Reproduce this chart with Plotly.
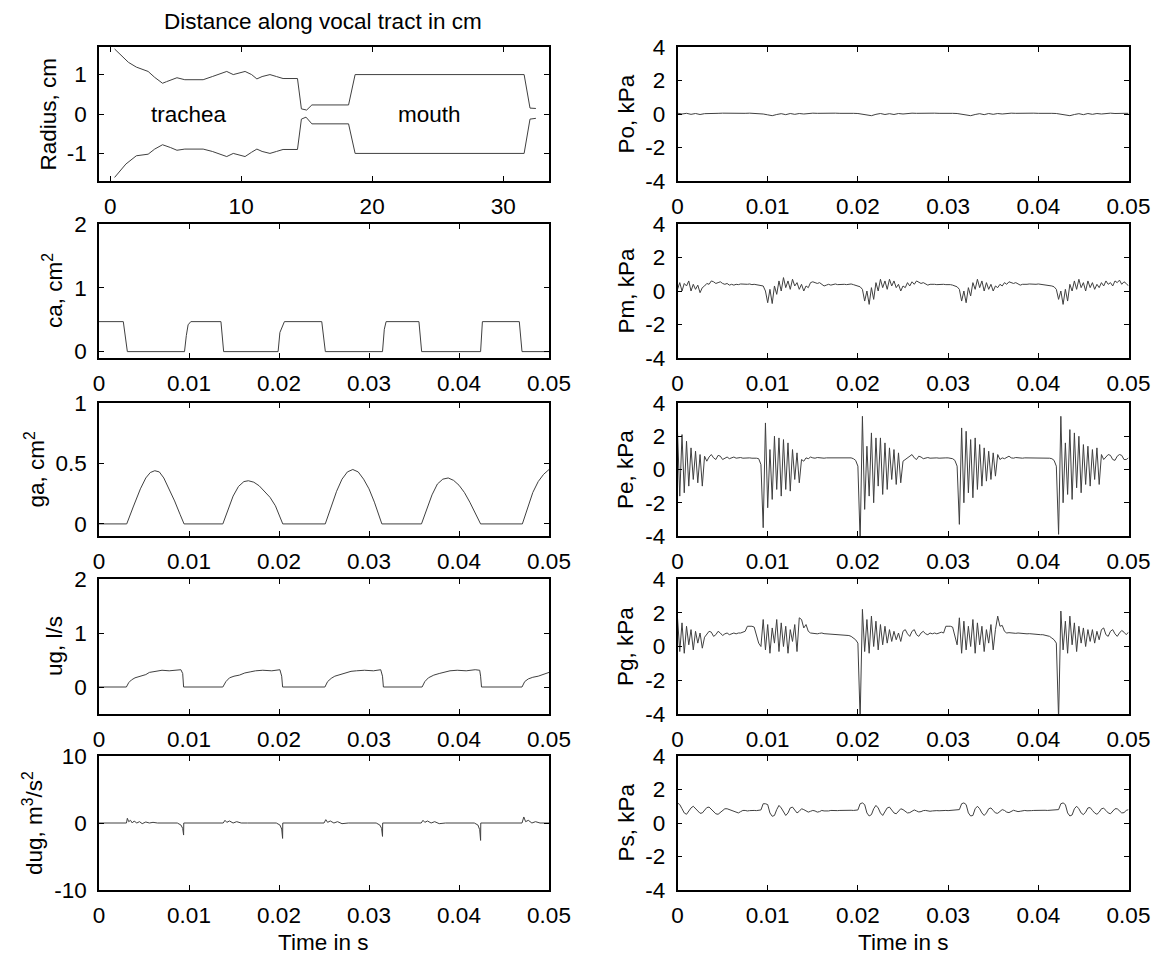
import plotly.graph_objects as go

W, H = 1157, 955
FONT = "Liberation Sans, Arial, sans-serif"
FS = 22.5
LC = "#404040"

# ---------------- DATA ----------------
# Vocal tract radius profile (distance in cm, radius in cm)
tract_x_upper = [0.34, 1.4, 2.0, 2.6, 2.9, 3.4, 4.0, 4.3, 5.1, 5.7, 7.1, 7.8, 8.5, 8.9, 9.4, 9.8,
                 10.3, 10.8, 11.2, 11.6, 12.2, 12.7, 13.2, 14.3, 14.6, 15.0, 15.4, 18.2, 18.7,
                 31.6, 32.05, 32.5]
tract_r_upper = [1.65, 1.31, 1.19, 1.12, 1.08, 0.93, 0.78, 0.82, 0.92, 0.87, 0.87, 0.95, 1.02, 1.08,
                 1.0, 1.04, 1.08, 1.0, 0.89, 0.95, 1.0, 0.95, 0.9, 0.9, 0.13, 0.1, 0.23, 0.23, 1.0,
                 1.0, 0.15, 0.14]
tract_x_lower = [0.34, 1.2, 2.0, 2.9, 3.4, 4.0, 4.6, 5.1, 5.7, 7.1, 7.8, 8.5, 8.9, 9.4, 9.8, 10.3,
                 10.8, 11.2, 11.6, 12.2, 12.7, 13.2, 14.3, 14.6, 14.95, 15.4, 18.2, 18.7, 31.6,
                 32.05, 32.5]
tract_r_lower = [-1.61, -1.27, -1.06, -1.02, -0.89, -0.78, -0.85, -0.92, -0.89, -0.89, -0.95, -1.02,
                 -1.08, -1.0, -1.03, -1.08, -0.97, -0.89, -0.95, -1.0, -0.95, -0.9, -0.9, -0.13,
                 -0.08, -0.25, -0.25, -1.0, -1.0, -0.13, -0.11]

# ca (cm^2) breakpoints
ca_t = [0, 0.0027, 0.00315, 0.0095, 0.0097, 0.0099, 0.0102, 0.01355, 0.01385, 0.0199, 0.0201,
        0.0206, 0.02475, 0.02515, 0.0315, 0.0317, 0.0319, 0.03555, 0.03585, 0.0424, 0.0426,
        0.0467, 0.0470, 0.05]
ca_v = [0.47, 0.47, 0, 0, 0.25, 0.42, 0.47, 0.47, 0, 0, 0.3, 0.47, 0.47, 0, 0, 0.35, 0.47, 0.47,
        0, 0, 0.47, 0.47, 0, 0]

# ga (cm^2) breakpoints
ga_t = [0, 0.00308, 0.0038, 0.0046, 0.0052, 0.0057, 0.0062, 0.0067, 0.0072, 0.0078, 0.0084,
        0.0090, 0.00945, 0.01376, 0.0143, 0.0149, 0.0155, 0.0161, 0.0166, 0.0172, 0.0178, 0.0184,
        0.0190, 0.0196, 0.0200, 0.02042, 0.02514, 0.0258, 0.0264, 0.0270, 0.0276, 0.0282, 0.0288,
        0.0294, 0.0300, 0.0306, 0.0311, 0.03143, 0.03583, 0.0364, 0.0370, 0.0376, 0.0382, 0.0388,
        0.0394, 0.0400, 0.0406, 0.0412, 0.0418, 0.0424, 0.04704, 0.0476, 0.0482, 0.0488, 0.0494,
        0.05]
ga_v = [0, 0, 0.14, 0.29, 0.38, 0.425, 0.44, 0.43, 0.38, 0.29, 0.19, 0.08, 0, 0, 0.11, 0.23, 0.31,
        0.35, 0.357, 0.345, 0.315, 0.27, 0.22, 0.15, 0.08, 0, 0, 0.14, 0.27, 0.37, 0.43, 0.45, 0.43,
        0.37, 0.29, 0.18, 0.08, 0, 0, 0.12, 0.24, 0.33, 0.37, 0.38, 0.36, 0.32, 0.26, 0.18, 0.09, 0,
        0, 0.12, 0.26, 0.35, 0.41, 0.45]

# ug (l/s) breakpoints
ug_t = [0, 0.00304, 0.0033, 0.0036, 0.0040, 0.0044, 0.0048, 0.0052, 0.0056, 0.0060, 0.0064, 0.0070,
        0.0078, 0.0085, 0.0091, 0.0093, 0.0094,
        0.01376, 0.0141, 0.0145, 0.0150, 0.0156, 0.0162, 0.0168, 0.0174, 0.0182, 0.0192, 0.0201,
        0.0203, 0.0204,
        0.0251, 0.0254, 0.0258, 0.0262, 0.0268, 0.0274, 0.0280, 0.0286, 0.0295, 0.0305, 0.0313,
        0.0315, 0.0316,
        0.0359, 0.0362, 0.0366, 0.0372, 0.0378, 0.0384, 0.0390, 0.0398, 0.0408, 0.0418, 0.0423,
        0.0424, 0.0425,
        0.0470, 0.0473, 0.0477, 0.0482, 0.0488, 0.0494, 0.05]
ug_v = [0, 0, 0.08, 0.13, 0.17, 0.19, 0.22, 0.23, 0.27, 0.28, 0.3, 0.31, 0.3, 0.315, 0.32, 0.25, 0,
        0, 0.1, 0.17, 0.2, 0.22, 0.26, 0.28, 0.3, 0.31, 0.3, 0.32, 0.2, 0,
        0, 0.1, 0.16, 0.2, 0.23, 0.26, 0.29, 0.3, 0.31, 0.3, 0.32, 0.2, 0,
        0, 0.1, 0.17, 0.22, 0.25, 0.28, 0.3, 0.31, 0.3, 0.32, 0.31, 0.2, 0,
        0, 0.1, 0.15, 0.18, 0.2, 0.24, 0.27]

# dug (m^3/s^2) breakpoints
dug_t = [0, 0.00305, 0.00315, 0.0033, 0.0035, 0.0037, 0.0039, 0.0042, 0.0045, 0.0048, 0.0052,
         0.0056, 0.0060, 0.0065, 0.0087, 0.0091, 0.0093, 0.0094, 0.00942,
         0.0138, 0.0140, 0.0142, 0.0145, 0.0149, 0.0153, 0.0158, 0.0165, 0.0197, 0.0201, 0.0203,
         0.0204, 0.02042,
         0.0250, 0.0252, 0.0254, 0.0257, 0.0261, 0.0265, 0.0270, 0.0277, 0.0308, 0.0312, 0.0314,
         0.0315, 0.03152,
         0.0358, 0.0360, 0.0362, 0.0365, 0.0369, 0.0373, 0.0378, 0.0385, 0.0417, 0.0421, 0.0423,
         0.0424, 0.04242,
         0.0470, 0.0472, 0.0474, 0.0477, 0.0481, 0.0485, 0.0490, 0.05]
dug_v = [0, 0, 0.7, 0.2, 0.4, 0.0, 0.3, 0.0, 0.2, -0.1, 0.15, 0.0, 0.1, 0.0, 0.0, -0.3, -0.8, -1.8, 0,
         0, 0.4, 0.1, 0.3, 0.0, 0.2, 0.0, 0.0, 0.0, -0.3, -0.9, -2.3, 0,
         0, 0.5, 0.1, 0.3, 0.0, 0.2, -0.1, 0.0, 0.0, -0.3, -0.8, -2.0, 0,
         0, 0.4, 0.1, 0.3, 0.0, 0.2, -0.1, 0.0, 0.0, -0.3, -1.0, -2.6, 0,
         0, 0.9, 0.2, 0.4, 0.0, 0.2, 0.0, 0.0]

# Pressures (kPa), sampled every DT_P seconds (Po every DT_PO)
DT_P = 0.00025
DT_PO = 0.0005

po = [0.05, 0.0, 0.04, -0.02, 0.03, -0.03, 0.02,
      0.04, 0.05, 0.04, 0.05, 0.04, 0.05, 0.04, 0.05, 0.04, 0.05, 0.04, 0.03,
      0.0, -0.05, -0.1, -0.03, 0.02, -0.04, 0.03, -0.02, 0.03, 0.0,
      0.04, 0.05, 0.04, 0.05, 0.05, 0.04, 0.05, 0.04, 0.05, 0.04, 0.04, 0.03,
      0.0, -0.04, -0.1, -0.02, 0.03, -0.03, 0.02, -0.03, 0.03, 0.0,
      0.04, 0.05, 0.04, 0.05, 0.05, 0.04, 0.05, 0.04, 0.05, 0.04, 0.04, 0.03,
      0.0, -0.05, -0.1, -0.03, 0.02, -0.04, 0.03, -0.02, 0.03, 0.0,
      0.04, 0.05, 0.04, 0.05, 0.05, 0.04, 0.05, 0.04, 0.05, 0.04, 0.04, 0.03,
      0.0, -0.05, -0.1, -0.03, 0.02, -0.04, 0.03, -0.02, 0.03, 0.0,
      0.04, 0.05, 0.03, 0.05, 0.04, 0.04]

pm = [0.1, 0.5, 0.0, 0.45, 0.3, 0.6, 0.0, 0.4, 0.1, 0.35, -0.1, 0.2, 0.3, 0.45, 0.4, 0.6, 0.55,
      0.45, 0.5, 0.55, 0.45, 0.4, 0.45, 0.35, 0.4, 0.35, 0.4, 0.38, 0.42, 0.4, 0.38, 0.4, 0.42,
      0.38, 0.4, 0.38, 0.35, 0.3, 0.3,
      0.0, -0.7, 0.1, -0.75, 0.3, -0.2, 0.6, 0.0, 0.8, 0.2, 0.6, 0.1, 0.7, 0.3, 0.5, 0.1, 0.4, 0.0,
      0.3, 0.2,
      0.5, 0.55, 0.5, 0.45, 0.5, 0.4, 0.3, 0.35, 0.4, 0.35, 0.4, 0.42, 0.38, 0.4, 0.42, 0.4, 0.38,
      0.4, 0.42, 0.38, 0.35, 0.3, 0.25, 0.1,
      -0.6, 0.0, -0.8, 0.2, -0.5, 0.5, 0.0, 0.7, 0.2, 0.6, 0.1, 0.7, 0.3, 0.6, 0.2, 0.4, 0.0, 0.3,
      0.2, 0.5, 0.3, 0.55, 0.4, 0.6, 0.5, 0.45, 0.5, 0.4, 0.35, 0.4, 0.42, 0.4, 0.38, 0.4, 0.42,
      0.4, 0.38, 0.4, 0.38, 0.35, 0.3, 0.25, 0.1,
      -0.6, 0.0, -0.7, 0.2, -0.3, 0.5, 0.1, 0.7, 0.2, 0.6, 0.0, 0.5, 0.1, 0.4, 0.0, 0.3, 0.2, 0.4,
      0.3, 0.5, 0.4, 0.55, 0.5, 0.45, 0.5, 0.4, 0.35, 0.4, 0.38, 0.4, 0.42, 0.4, 0.38, 0.4, 0.42,
      0.4, 0.38, 0.4, 0.38, 0.35, 0.3, 0.25, 0.1,
      -0.5, 0.0, -0.8, 0.1, -0.6, 0.4, 0.0, 0.6, 0.1, 0.7, 0.2, 0.5, 0.0, 0.6, 0.2, 0.5, 0.1, 0.4,
      0.2, 0.5,
      0.3, 0.6, 0.4, 0.5, 0.3, 0.6, 0.5, 0.65, 0.4, 0.55, 0.45, 0.3]

pe = [2.3, -1.6, 2.1, -1.4, 1.7, -1.0, 1.3, -0.6, 1.1, -0.8, 0.9, -1.0, 0.8,
      0.5, 0.75, 0.9, 0.7, 0.6, 0.85, 0.8, 0.6, 0.7, 0.75, 0.65, 0.7, 0.75, 0.68, 0.7, 0.72, 0.68,
      0.7, 0.7, 0.7, 0.68, 0.7, 0.68, 0.65, 0.3,
      -3.5, 2.8, -2.3, 1.2, -1.8, 2.0, -1.2, 1.9, -1.6, 1.8, -1.2, 1.6, -1.3, 1.2, -0.6, 1.0, -0.8,
      0.6, 0.5,
      0.7, 0.65, 0.75, 0.7, 0.68, 0.72, 0.7, 0.7, 0.68, 0.7, 0.7, 0.68, 0.7, 0.7, 0.7, 0.68, 0.7,
      0.7, 0.7, 0.68, 0.7, 0.65, 0.55, 0.2,
      -4.3, 3.2, -2.4, 1.4, -1.6, 2.2, -2.0, 1.9, -1.0, 1.9, -1.5, 1.6, -1.2, 1.3, -0.6, 1.2, -0.9,
      1.0, -0.8, 0.5,
      0.6, 0.75, 0.85, 0.9, 0.7, 0.6, 0.8, 0.75, 0.65, 0.7, 0.72, 0.68, 0.7, 0.7, 0.7, 0.68, 0.7,
      0.7, 0.7, 0.7, 0.68, 0.65, 0.55, 0.2,
      -3.3, 2.5, -2.0, 2.3, -1.4, 1.8, -1.7, 1.9, -1.2, 1.5, -1.0, 1.3, -0.7, 1.1, -0.6, 1.0, -0.4,
      0.9, 0.6,
      0.7, 0.65, 0.75, 0.8, 0.7, 0.68, 0.72, 0.7, 0.7, 0.68, 0.7, 0.7, 0.7, 0.7, 0.7, 0.7, 0.68,
      0.7, 0.7, 0.7, 0.7, 0.68, 0.65, 0.55, 0.2,
      -3.9, 3.2, -2.0, 1.6, -1.5, 2.4, -1.8, 2.2, -1.1, 2.0, -1.4, 1.5, -0.9, 1.4, -1.0, 1.2, -0.6,
      1.3, -0.9, 0.9,
      0.6, 0.75, 0.9, 0.85, 0.6, 0.55, 0.8, 0.9, 0.85, 0.6, 0.6, 0.7]

pg = [1.7, -0.3, 1.4, -0.4, 1.2, 0.1, 1.0, -0.2, 0.9, 0.2, 0.8, -0.1, 0.55,
      0.7, 0.9, 0.85, 0.6, 0.7, 0.9, 0.8, 0.65, 0.75, 0.8, 0.7, 0.75, 0.8, 0.75, 0.8, 0.8, 0.85,
      0.9, 1.2, 1.2, 1.2, 1.15, 0.6, 0.2, 0.0,
      1.6, -0.2, 1.3, -0.4, 1.1, 0.2, 1.6, -0.3, 1.4, 0.0, 1.2, -0.4, 1.0, 0.3, 1.3, -0.3, 1.7,
      1.6, 1.1, 1.3, 0.9,
      0.8, 0.78, 0.8, 0.75, 0.78, 0.8, 0.76, 0.75, 0.78, 0.75, 0.72, 0.74, 0.7, 0.72, 0.7, 0.7,
      0.68, 0.65, 0.6, 0.5, 0.4, 0.2,
      -4.3, 2.2, -0.3, 1.6, -0.4, 1.8, 0.0, 1.5, -0.2, 1.3, 0.1, 1.2, 0.2, 1.0, 0.3, 0.9, 0.4, 0.8,
      0.3, 0.9,
      1.0, 0.75, 0.6, 0.9, 1.0, 0.7, 0.6, 0.8, 0.9, 0.75, 0.7, 0.8, 0.75, 0.8, 0.75, 0.8, 0.85,
      0.8,
      1.2, 1.2, 1.2, 1.15, 0.6, 0.1,
      1.7, -0.4, 1.5, -0.2, 1.2, 0.0, 1.6, -0.4, 1.4, 0.1, 1.2, -0.3, 1.0, 0.2, 1.3, -0.2, 1.0,
      1.8, 1.2,
      1.25, 0.9, 0.8, 0.82, 0.8, 0.8, 0.78, 0.8, 0.78, 0.76, 0.78, 0.75, 0.76, 0.74, 0.75, 0.72,
      0.72, 0.7, 0.7, 0.68, 0.65, 0.6, 0.5, 0.4, 0.2,
      -4.3, 2.1, -0.2, 1.5, -0.4, 1.8, 0.1, 1.4, -0.3, 1.2, 0.2, 1.1, 0.0, 1.0, 0.3, 1.0, 0.2, 0.9,
      0.4, 1.0,
      1.1, 0.7, 0.6, 0.9, 1.0, 0.75, 0.6, 0.8, 0.95, 0.85, 0.7, 0.85]

ps = [1.2, 1.1, 0.85, 0.6, 0.52, 0.7, 0.9, 1.0, 0.85, 0.72, 0.58, 0.6, 0.8, 0.92, 0.95, 0.8,
      0.65, 0.55, 0.52, 0.65, 0.75, 0.85, 0.85, 0.8, 0.75, 0.7, 0.62, 0.6, 0.68, 0.75, 0.75, 0.72,
      0.74, 0.76, 0.75, 0.74, 0.76, 0.78,
      1.15, 1.15, 1.1, 0.6, 0.4, 0.45, 0.8, 1.05, 0.9, 0.65, 0.45, 0.6, 0.9, 0.95, 0.75, 0.6, 0.7,
      0.85, 0.8, 0.7, 0.65, 0.7, 0.75, 0.72, 0.65, 0.68, 0.75, 0.72, 0.7, 0.72, 0.75, 0.74, 0.72,
      0.74, 0.75, 0.76, 0.75, 0.74, 0.75, 0.76, 0.75, 0.76, 0.78,
      1.15, 1.2, 1.1, 0.6, 0.42, 0.5, 0.85, 1.05, 0.9, 0.6, 0.45, 0.65, 0.9, 0.95, 0.75, 0.6, 0.55,
      0.7, 0.85, 0.8, 0.7, 0.6, 0.62, 0.72, 0.78, 0.72, 0.66, 0.68, 0.74, 0.75, 0.72, 0.7, 0.72,
      0.75, 0.74, 0.73, 0.75, 0.76, 0.75, 0.74, 0.75, 0.76, 0.75, 0.78, 0.8,
      1.15, 1.2, 1.1, 0.6, 0.42, 0.45, 0.85, 1.0, 0.85, 0.6, 0.45, 0.6, 0.85, 0.9, 0.75, 0.6, 0.58,
      0.7, 0.8, 0.75, 0.65, 0.62, 0.7, 0.76, 0.72, 0.68, 0.7, 0.74, 0.75, 0.73, 0.72, 0.74, 0.75,
      0.76, 0.75, 0.74, 0.75, 0.76, 0.75, 0.76, 0.75, 0.76, 0.78, 0.8,
      1.15, 1.2, 1.1, 0.6, 0.42, 0.48, 0.85, 1.0, 0.85, 0.6, 0.5, 0.65, 0.9, 0.92, 0.75, 0.6, 0.52,
      0.65, 0.85, 0.88, 0.75, 0.6, 0.55, 0.68, 0.85, 0.85, 0.7, 0.6, 0.62, 0.75, 0.8]

time_ticks = [0, 0.01, 0.02, 0.03, 0.04, 0.05]
time_ticktext = ["0", "0.01", "0.02", "0.03", "0.04", "0.05"]
dist_ticks = [0, 10, 20, 30]
dist_ticktext = ["0", "10", "20", "30"]


def tgrid(values, dt):
    return [round(i * dt, 6) for i in range(len(values))]


# ---------------- LAYOUT GEOMETRY (pixels) ----------------
rows_px = [(47, 181), (224, 358), (403, 536), (579, 714), (756, 890)]
cols_px = [(99, 549), (677.5, 1128.5)]


def xdom(c):
    a, b = cols_px[c]
    return [a / W, b / W]


def ydom(r):
    t, b = rows_px[r]
    return [1 - b / H, 1 - t / H]


fig = go.Figure()

# (col, row, x, y, yrange, yticks, yticktext, xrange, xticks, xticktext, ytitle, ytitle_baseline_px)
panels = [
    (0, 0, None, None, [-1.7, 1.7], [-1, 0, 1], ["-1", "0", "1"], [-0.85, 33.5], dist_ticks,
     dist_ticktext, "Radius, cm", 55),
    (0, 1, ca_t, ca_v, [-0.1, 2], [0, 1, 2], ["0", "1", "2"], [0, 0.05], time_ticks,
     time_ticktext, "ca, cm<sup>2</sup>", 62),
    (0, 2, ga_t, ga_v, [-0.1, 1], [0, 0.5, 1], ["0", "0.5", "1"], [0, 0.05], time_ticks,
     time_ticktext, "ga, cm<sup>2</sup>", 43),
    (0, 3, ug_t, ug_v, [-0.5, 2], [0, 1, 2], ["0", "1", "2"], [0, 0.05], time_ticks,
     time_ticktext, "ug, l/s", 62),
    (0, 4, dug_t, dug_v, [-10, 10], [-10, 0, 10], ["-10", "0", "10"], [0, 0.05], time_ticks,
     time_ticktext, "dug, m<sup>3</sup>/s<sup>2</sup>", 42),
    (1, 0, tgrid(po, DT_PO), po, [-4, 4], [-4, -2, 0, 2, 4], ["-4", "-2", "0", "2", "4"],
     [0, 0.05], time_ticks, time_ticktext, "Po, kPa", 633),
    (1, 1, tgrid(pm, DT_P), pm, [-4, 4], [-4, -2, 0, 2, 4], ["-4", "-2", "0", "2", "4"],
     [0, 0.05], time_ticks, time_ticktext, "Pm, kPa", 633),
    (1, 2, tgrid(pe, DT_P), pe, [-4, 4], [-4, -2, 0, 2, 4], ["-4", "-2", "0", "2", "4"],
     [0, 0.05], time_ticks, time_ticktext, "Pe, kPa", 633),
    (1, 3, tgrid(pg, DT_P), pg, [-4, 4], [-4, -2, 0, 2, 4], ["-4", "-2", "0", "2", "4"],
     [0, 0.05], time_ticks, time_ticktext, "Pg, kPa", 633),
    (1, 4, tgrid(ps, DT_P), ps, [-4, 4], [-4, -2, 0, 2, 4], ["-4", "-2", "0", "2", "4"],
     [0, 0.05], time_ticks, time_ticktext, "Ps, kPa", 633),
]

annotations = []
tickfont = dict(family=FONT, size=FS, color="black")
for k, (c, r, xs, ys, yr, yt, ytt, xr, xt, xtt, ytitle, ybase) in enumerate(panels, start=1):
    xa = "x" if k == 1 else f"x{k}"
    ya = "y" if k == 1 else f"y{k}"
    if k == 1:
        fig.add_trace(go.Scatter(x=tract_x_upper, y=tract_r_upper, mode="lines",
                                 line=dict(color=LC, width=1), xaxis=xa, yaxis=ya,
                                 showlegend=False, hoverinfo="skip"))
        fig.add_trace(go.Scatter(x=tract_x_lower, y=tract_r_lower, mode="lines",
                                 line=dict(color=LC, width=1), xaxis=xa, yaxis=ya,
                                 showlegend=False, hoverinfo="skip"))
    else:
        fig.add_trace(go.Scatter(x=xs, y=ys, mode="lines", line=dict(color=LC, width=1),
                                 xaxis=xa, yaxis=ya, showlegend=False, hoverinfo="skip"))
    common = dict(ticks="inside", ticklen=5, tickwidth=1, tickcolor="black", showline=True,
                  linecolor="black", linewidth=1.5, mirror="ticks", showgrid=False,
                  zeroline=False, tickfont=tickfont, fixedrange=True, automargin=False)
    fig.layout[f"xaxis{'' if k == 1 else k}"] = dict(
        domain=xdom(c), range=xr, tickmode="array", tickvals=xt, ticktext=xtt,
        anchor=ya, ticklabelstandoff=4, **common)
    fig.layout[f"yaxis{'' if k == 1 else k}"] = dict(
        domain=ydom(r), range=yr, tickmode="array", tickvals=yt, ticktext=ytt,
        anchor=xa, ticklabelstandoff=6, **common)
    t, b = rows_px[r]
    annotations.append(dict(text=ytitle, xref="paper", yref="paper", x=(ybase + 7) / W,
                            y=1 - (t + b) / 2 / H, xanchor="right", yanchor="middle",
                            textangle=-90, showarrow=False,
                            font=dict(family=FONT, size=FS, color="black")))

annotations += [
    dict(text="Distance along vocal tract in cm", xref="paper", yref="paper", x=323 / W,
         y=1 - 22 / H, xanchor="center", yanchor="middle", showarrow=False,
         font=dict(family=FONT, size=FS, color="black")),
    dict(text="trachea", xref="x", yref="y", x=6.05, y=0, xanchor="center", yanchor="middle",
         showarrow=False, font=dict(family=FONT, size=FS, color="black")),
    dict(text="mouth", xref="x", yref="y", x=24.4, y=0, xanchor="center", yanchor="middle",
         showarrow=False, font=dict(family=FONT, size=FS, color="black")),
    dict(text="Time in s", xref="paper", yref="paper", x=323 / W, y=1 - 942 / H,
         xanchor="center", yanchor="middle", showarrow=False,
         font=dict(family=FONT, size=FS, color="black")),
    dict(text="Time in s", xref="paper", yref="paper", x=903 / W, y=1 - 942 / H,
         xanchor="center", yanchor="middle", showarrow=False,
         font=dict(family=FONT, size=FS, color="black")),
]

fig.update_layout(width=W, height=H,
                  margin=dict(l=0, r=0, t=0, b=0, pad=0, autoexpand=False),
                  paper_bgcolor="white", plot_bgcolor="white", annotations=annotations,
                  font=dict(family=FONT, size=FS, color="black"), showlegend=False)

fig.write_html("out.html", config={"displayModeBar": False},
               post_script="document.body.style.margin='0';"
                           "document.body.style.overflow='hidden';")
